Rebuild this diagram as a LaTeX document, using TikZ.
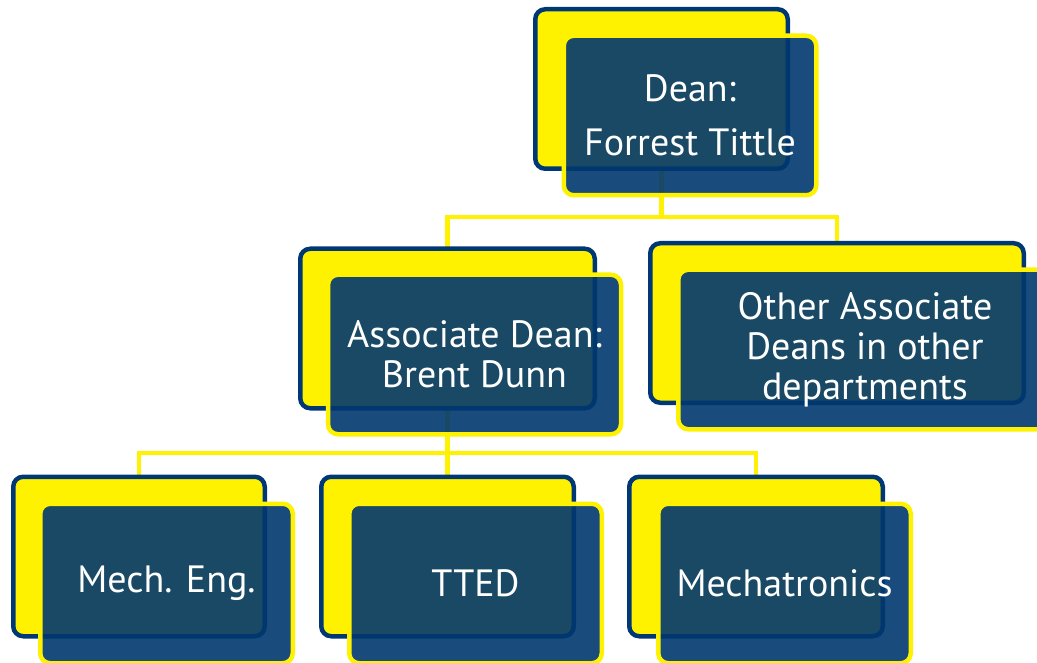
\documentclass[tikz,border=0pt]{standalone}
\usepackage{fontspec}
\setmainfont{PT Sans}
\definecolor{ylw}{RGB}{255,242,0}
\definecolor{dkblue}{RGB}{0,56,118}
\definecolor{frontblue}{RGB}{0,55,111}
\begin{document}
\begin{tikzpicture}[x=1pt,y=-1pt,
  backbox/.style={draw=dkblue, fill=ylw, line width=4.5pt, rounded corners=10pt,
    rectangle, inner sep=0pt, minimum height=159.5pt},
  frontbox/.style={draw=ylw, fill=frontblue, fill opacity=0.9, text opacity=1,
    line width=4.5pt, rounded corners=10pt, rectangle, inner sep=0pt,
    minimum height=159.5pt, text=white, align=center,
    font=\fontsize{38}{40}\selectfont},
  conn/.style={draw=ylw, line width=4.2pt, line join=miter}]
\useasboundingbox (0,0) rectangle (1037,663);
\clip (0,0) rectangle (1037,663);
% back boxes first (coordinates only for connectors)
\coordinate (deanBc) at (661.5,89);
\coordinate (assocBc) at (447.5,328.5);
\coordinate (otherBc) at (837,323);
\coordinate (mechBc) at (139,556.5);
\coordinate (ttedBc) at (447.5,556.5);
\coordinate (mtrBc) at (756,556.5);
% connectors
\coordinate (j1) at (661.5,217);
\coordinate (j2) at (447.5,453);
\draw[conn] (deanBc) ++(0,79.75) coordinate (deanS) -- (j1);
\draw[conn] (j1) -| ([yshift=80pt]assocBc);
\draw[conn] (j1) -| ([yshift=80pt]otherBc);
\draw[conn] ([yshift=-80pt]assocBc) -- (j2);
\draw[conn] (j2) -| ([yshift=80pt]mechBc);
\draw[conn] (j2) -- ([yshift=80pt]ttedBc);
\draw[conn] (j2) -| ([yshift=80pt]mtrBc);
% Dean
\node[backbox, minimum width=252.5pt] (deanB) at (deanBc) {};
\node[frontbox, minimum width=252.5pt] (dean) at ([shift={(28.5,26.5)}]deanBc)
  {Dean:\\[14pt]Forrest Tittle};
% Associate Dean
\node[backbox, minimum width=294.5pt] (assocB) at (assocBc) {};
\node[frontbox, minimum width=293pt] (assoc) at ([shift={(27,26)}]assocBc)
  {Associate Dean:\\Brent Dunn};
% Other
\node[backbox, minimum width=373.5pt] (otherB) at (otherBc) {};
\node[frontbox, minimum width=373.5pt] (other) at ([shift={(28,26.5)}]otherBc)
  {Other Associate\\Deans in other\\departments};
% bottom row
\node[backbox, minimum width=251.5pt] (mechB) at (mechBc) {};
\node[frontbox, minimum width=252.5pt] (mech) at ([shift={(27.5,27)}]mechBc) {Mech. Eng.};
\node[backbox, minimum width=252.5pt] (ttedB) at (ttedBc) {};
\node[frontbox, minimum width=252.5pt] (tted) at ([shift={(28,27)}]ttedBc) {TTED};
\node[backbox, minimum width=253.5pt] (mtrB) at (mtrBc) {};
\node[frontbox, minimum width=252.5pt] (mtr) at ([shift={(28.5,27)}]mtrBc) {Mechatronics};
\end{tikzpicture}
\end{document}
